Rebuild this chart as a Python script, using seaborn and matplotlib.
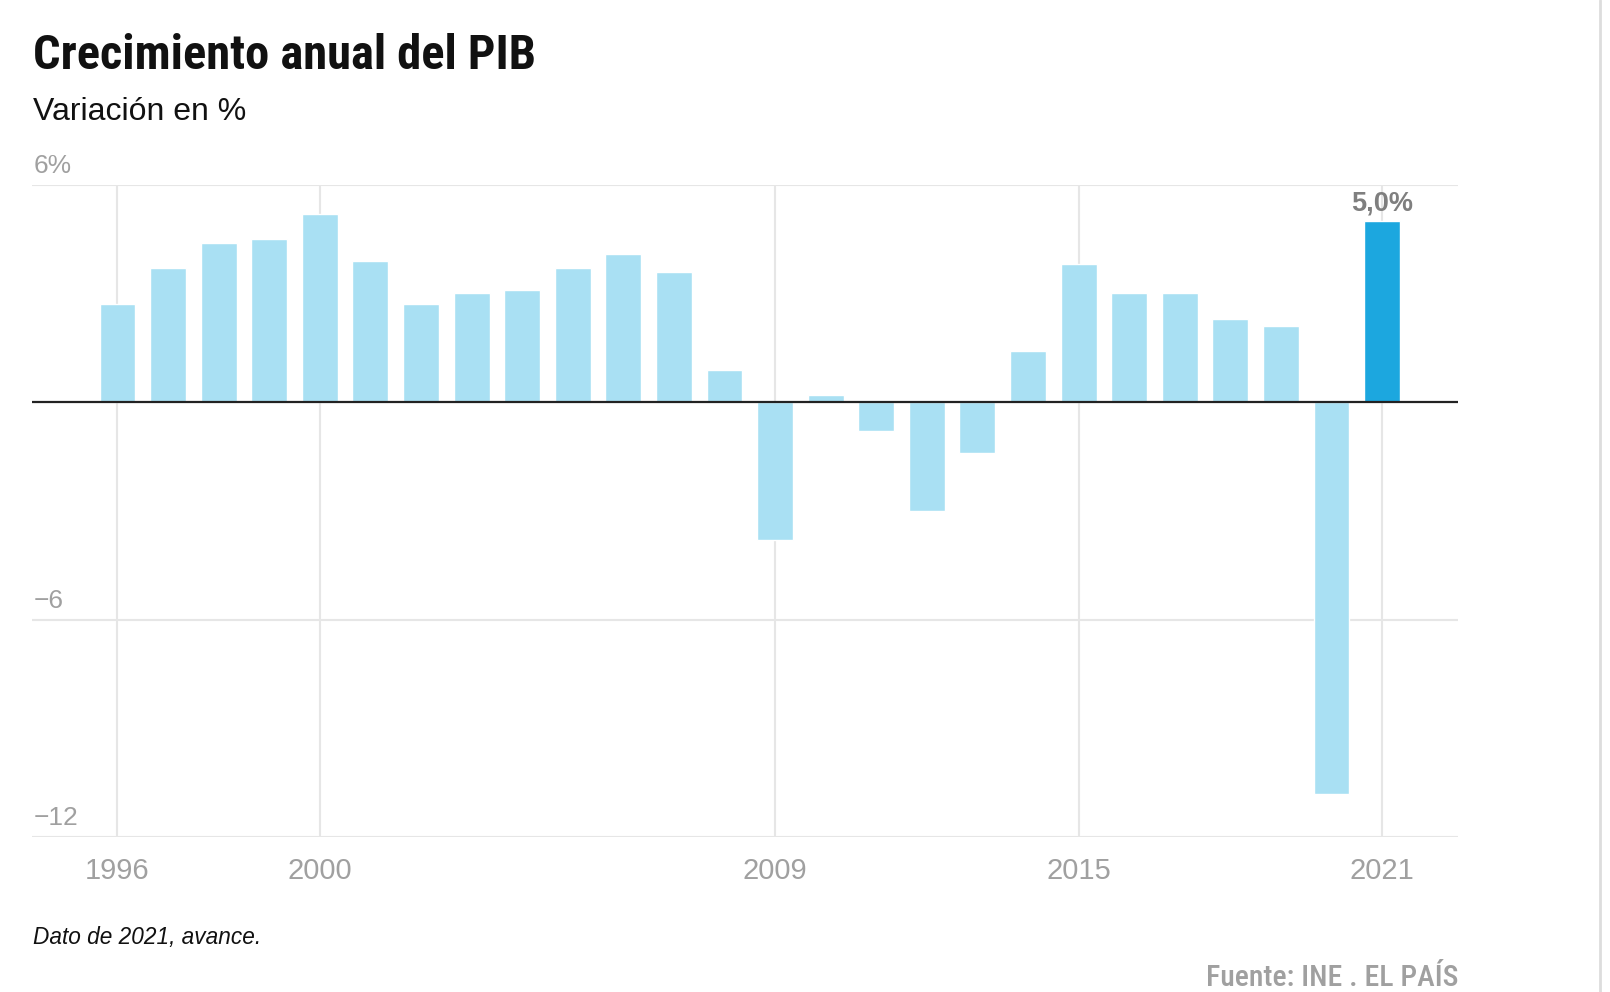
# -*- coding: utf-8 -*-
"""
Crecimiento anual del PIB (barras, variación en %)
"""

import seaborn as sns
import matplotlib.pyplot as plt
import matplotlib.transforms as mtransforms
from matplotlib import font_manager
from matplotlib.lines import Line2D
import pandas as pd

# datos
anios = list(range(1996, 2022))
pib = [2.7, 3.7, 4.4, 4.5, 5.2, 3.9, 2.7, 3.0, 3.1, 3.7, 4.1, 3.6, 0.9,
       -3.8, 0.2, -0.8, -3.0, -1.4, 1.4, 3.8, 3.0, 3.0, 2.3, 2.1, -10.8, 5.0]
tipo = ['dato'] * 25 + ['avance']
anios_eje = [1996, 2000, 2009, 2015, 2021]
y_ticks = [6, -6, -12]
y_labels = ['6%', '\u22126', '\u221212']
colores = {'dato': '#a9e0f3', 'avance': '#1ca7df'}

df = pd.DataFrame({'anio': [str(a) for a in anios], 'pib': pib, 'tipo': tipo})

# tema
sns.set_theme(style="white")
plt.rcParams['font.family'] = ['Liberation Sans', 'DejaVu Sans']

# fuente estrecha para el título, si la hay
nombres = {f.name for f in font_manager.fontManager.ttflist}
estrecha = 'DejaVu Sans'
for cand in ['Liberation Sans Narrow', 'Roboto Condensed', 'DejaVu Sans Condensed',
             'Open Sans Condensed', 'Roboto', 'Inter']:
    if cand in nombres:
        estrecha = cand
        break

fig = plt.figure(figsize=(16.1, 9.92), dpi=100)
ax = fig.add_axes([32 / 1610, 1 - 837.3 / 992, (1458 - 32) / 1610, (837.3 - 184.7) / 992])

sns.barplot(
    data=df, x='anio', y='pib', hue='tipo',
    palette=colores, dodge=False, width=0.71,
    saturation=1, legend=False, ax=ax, zorder=2
    )

ax.set_xlim(-1.69, 26.5)
ax.set_ylim(-12, 6)

# ejes y rejilla
ax.set_xticks([anios.index(a) for a in anios_eje])
ax.set_xticklabels([str(a) for a in anios_eje], fontsize=21, color='#a0a0a0')
ax.set_yticks(y_ticks)
ax.set_yticklabels([])
ax.tick_params(axis='both', length=0)
ax.tick_params(axis='x', pad=14)
ax.grid(True, axis='both', color='#e6e6e6', lw=1.5)
ax.set_axisbelow(True)
for s in ax.spines.values():
    s.set_visible(False)
ax.set_xlabel('')
ax.set_ylabel('')
ax.axhline(0, color='#222222', lw=1.6, zorder=3)

# etiquetas del eje y, encima de la rejilla
trans = mtransforms.blended_transform_factory(ax.transAxes, ax.transData)
for v, lab in zip(y_ticks, y_labels):
    ax.annotate(lab, xy=(0, v), xycoords=trans, xytext=(1, 5),
                textcoords='offset points', ha='left', va='bottom',
                fontsize=19, color='#a0a0a0')

# etiqueta del último dato
i_last = len(anios) - 1
ax.annotate('5,0%', xy=(i_last, pib[-1]), xytext=(0, 3),
            textcoords='offset points', ha='center', va='bottom',
            fontsize=19.5, fontweight='bold', color='#7f7f7f')

# textos
titulo = fig.text(33 / 1610, 1 - 69 / 992, 'Crecimiento anual del PIB',
                  family=[estrecha, 'DejaVu Sans'], fontsize=33,
                  fontweight='heavy', color='#111111', va='baseline')
fig.text(33 / 1610, 1 - 120 / 992, 'Variación en %',
         fontsize=23, color='#111111', va='baseline')
fig.text(33 / 1610, 1 - 944 / 992, 'Dato de 2021, avance.',
         fontsize=16.3, style='italic', color='#111111', va='baseline')
fuente = fig.text(1458 / 1610, 1 - 986 / 992, 'Fuente: INE . EL PAÍS',
                  family=[estrecha, 'DejaVu Sans'], fontsize=21,
                  fontweight='medium', color='#a0a0a0', ha='right', va='baseline')

# ajustar tamaño de los textos estrechos al ancho del original
renderer = fig.canvas.get_renderer()
for t, ancho in [(titulo, 503), (fuente, 251)]:
    w = t.get_window_extent(renderer).width
    t.set_fontsize(t.get_fontsize() * ancho / w)

# borde derecho
fig.add_artist(Line2D([1600 / 1610, 1600 / 1610], [0, 1],
                      transform=fig.transFigure, color='#dddddd', lw=2))

plt.savefig('out.png', dpi=100)
